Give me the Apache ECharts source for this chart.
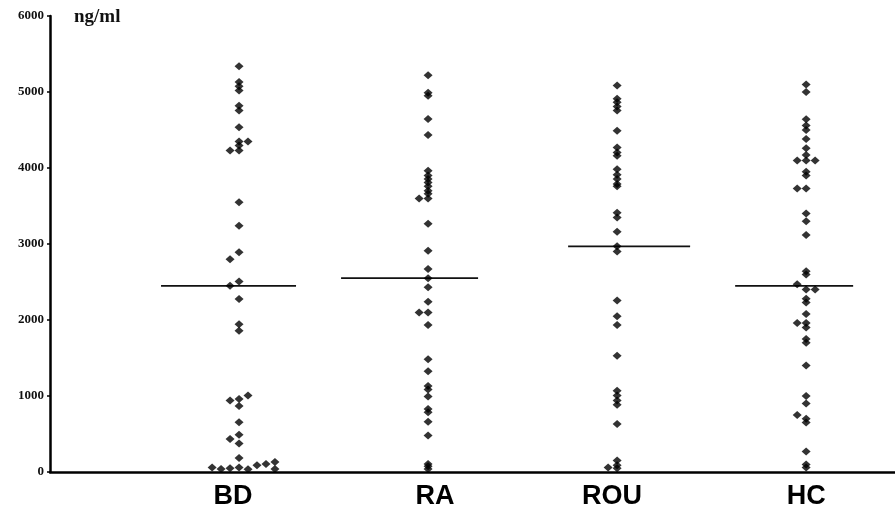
<!DOCTYPE html>
<html>
<head>
<meta charset="utf-8">
<style>
  html, body { margin: 0; padding: 0; background: #fff; }
  #chart { width: 895px; height: 512px; }
</style>
<script src="https://cdn.jsdelivr.net/npm/echarts@6/dist/echarts.min.js"></script>
</head>
<body>
<div id="chart"></div>
<script>
// Groups shown along the x axis
const groups = ['BD', 'RA', 'ROU', 'HC'];

// Each point: [concentration ng/ml, horizontal slot in the dot column]
const bdPoints = [
  [5340, 0], [5130, 0], [5075, 0], [5020, 0], [4820, 0], [4755, 0], [4535, 0],
  [4350, 0], [4350, 1], [4295, 0], [4230, -1], [4230, 0], [3550, 0], [3240, 0],
  [2890, 0], [2800, -1], [2505, 0], [2450, -1], [2275, 0], [1945, 0], [1860, 0],
  [1005, 1], [960, 0], [940, -1], [870, 0], [655, 0], [490, 0], [435, -1], [375, 0],
  [185, 0], [60, -3], [40, -2], [50, -1], [60, 0], [35, 1], [90, 2], [105, 3],
  [130, 4], [40, 4]
];
const raPoints = [
  [5220, 0], [4990, 0], [4950, 0], [4645, 0], [4435, 0], [3965, 0], [3900, 0],
  [3855, 0], [3810, 0], [3760, 0], [3700, 0], [3660, 0], [3600, 0], [3600, -1],
  [3265, 0], [2910, 0], [2670, 0], [2550, 0], [2430, 0], [2240, 0], [2100, 0],
  [2100, -1], [1935, 0], [1485, 0], [1325, 0], [1130, 0], [1085, 0], [995, 0],
  [830, 0], [785, 0], [660, 0], [480, 0], [105, 0], [75, 0], [40, 0]
];
const rouPoints = [
  [5085, 0], [4910, 0], [4865, 0], [4810, 0], [4755, 0], [4490, 0], [4270, 0],
  [4205, 0], [4160, 0], [3985, 0], [3910, 0], [3855, 0], [3790, 0], [3760, 0],
  [3410, 0], [3350, 0], [3160, 0], [2970, 0], [2900, 0], [2255, 0], [2050, 0],
  [1935, 0], [1530, 0], [1070, 0], [1005, 0], [940, 0], [885, 0], [630, 0],
  [150, 0], [90, 0], [60, -1], [50, 0]
];
const hcPoints = [
  [5100, 0], [5000, 0], [4640, 0], [4560, 0], [4500, 0], [4380, 0], [4260, 0],
  [4170, 0], [4100, -1], [4100, 0], [4100, 1], [3950, 0], [3900, 0], [3730, -1],
  [3730, 0], [3400, 0], [3300, 0], [3120, 0], [2640, 0], [2600, 0], [2470, -1],
  [2400, 0], [2400, 1], [2280, 0], [2230, 0], [2080, 0], [1960, -1], [1960, 0],
  [1900, 0], [1750, 0], [1700, 0], [1400, 0], [1000, 0], [900, 0], [750, -1],
  [700, 0], [650, 0], [270, 0], [100, 0], [60, 0]
];
const groupPoints = [bdPoints, raPoints, rouPoints, hcPoints];

// Median of each group (horizontal bar)
const medians = [2450, 2550, 2970, 2450];

// Y axis ticks
const yTicks = [0, 1000, 2000, 3000, 4000, 5000, 6000];

// Horizontal spacing of one slot within a dot column, in x-axis units
const SLOT = 0.0475;
// Pixel reach of each median bar to the left / right of its column
const medianReach = [[78, 57], [87, 50], [49, 73], [71, 47]];
// Small horizontal nudge of each group name (px, negative = left)
const labelNudge = [-6, 7, -5, 0];

const scatterData = [];
groupPoints.forEach((pts, gi) => {
  pts.forEach(([v, slot]) => scatterData.push([gi + 1 + slot * SLOT, v]));
});
const medianData = medians.map((m, gi) => [gi + 1, m, gi]);

const labelFont = { fontFamily: 'Liberation Sans', fontWeight: 'bold', fontSize: 27, color: '#000' };
const rich = {};
labelNudge.forEach((n, i) => {
  rich['g' + i] = Object.assign({}, labelFont, {
    padding: n < 0 ? [0, -2 * n, 0, 0] : [0, 0, 0, 2 * n]
  });
});

const chart = echarts.init(document.getElementById('chart'), null, { renderer: 'canvas' });
chart.setOption({
  animation: false,
  backgroundColor: '#ffffff',
  grid: { left: 50, right: 0, top: 16, bottom: 40, containLabel: false },
  title: {
    text: 'ng/ml',
    left: 69, top: 3,
    textStyle: { fontFamily: 'Liberation Serif', fontWeight: 'bold', fontSize: 19, color: '#111' }
  },
  xAxis: {
    type: 'value',
    min: 0, max: 4.47, interval: 1,
    splitLine: { show: false },
    axisTick: { show: false },
    axisLine: { show: true, onZero: false, lineStyle: { color: '#000', width: 2.5 } },
    axisLabel: {
      margin: 11,
      showMaxLabel: false,
      rich: rich,
      formatter: v => (Number.isInteger(v) && v >= 1 && v <= groups.length)
        ? '{g' + (v - 1) + '|' + groups[v - 1] + '}' : ''
    }
  },
  yAxis: {
    type: 'value',
    min: yTicks[0], max: yTicks[yTicks.length - 1], interval: 1000,
    splitLine: { show: false },
    axisLine: { show: true, lineStyle: { color: '#000', width: 2.5 } },
    axisTick: { show: true, length: 3, lineStyle: { color: '#000', width: 1.5 } },
    axisLabel: {
      margin: 6,
      fontFamily: 'Liberation Serif', fontWeight: 'bold', fontSize: 13, color: '#111',
      formatter: v => String(v)
    }
  },
  series: [
    {
      type: 'scatter',
      data: scatterData,
      symbol: 'diamond',
      symbolSize: [9, 8],
      itemStyle: { color: '#000' },
      z: 3
    },
    {
      type: 'custom',
      data: medianData,
      renderItem: (params, api) => {
        const p = api.coord([api.value(0), api.value(1)]);
        const reach = medianReach[api.value(2)];
        return {
          type: 'line',
          shape: { x1: p[0] - reach[0], y1: p[1], x2: p[0] + reach[1], y2: p[1] },
          style: { stroke: '#111', lineWidth: 1.8 }
        };
      },
      z: 2
    }
  ]
});
</script>
</body>
</html>
